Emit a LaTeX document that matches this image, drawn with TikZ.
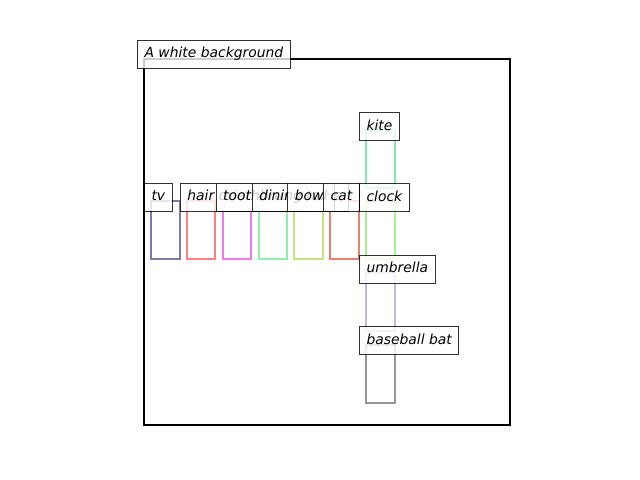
\documentclass[tikz,border=0pt]{standalone}
\usepackage{fontspec}
\setmainfont{DejaVu Sans}
\definecolor{ctv}{RGB}{128,120,168}
\definecolor{chair}{RGB}{255,128,128}
\definecolor{ctooth}{RGB}{240,120,240}
\definecolor{cdining}{RGB}{140,240,170}
\definecolor{cbowl}{RGB}{195,228,128}
\definecolor{ccat}{RGB}{232,128,108}
\definecolor{ckite}{RGB}{128,232,176}
\definecolor{cclock}{RGB}{170,240,140}
\definecolor{cumb}{RGB}{200,180,224}
\definecolor{cbat}{RGB}{150,150,150}
\begin{document}
\begin{tikzpicture}[x=0.72bp,y=-0.72bp,
  lbl/.style={draw=black, draw opacity=0.8, fill=white, fill opacity=0.8, text opacity=1,
    line width=0.72bp, inner sep=5bp, text height=7.6bp, text depth=2.4bp,
    anchor=base west, font=\fontsize{10bp}{12bp}\selectfont\itshape},
  objbox/.style={line width=1.44bp},
  framebox/.style={line width=1.44bp, draw=black}]
\useasboundingbox (0,0) rectangle (640,480);
\draw[framebox] (144,59) rectangle (510,425);
% object boxes
\draw[objbox, ctv]     (151,201)    rectangle ++(28.6,58);
\draw[objbox, chair]   (186.83,201) rectangle ++(28.6,58);
\draw[objbox, ctooth]  (222.67,201) rectangle ++(28.6,58);
\draw[objbox, cdining] (258.5,201)  rectangle ++(28.6,58);
\draw[objbox, cbowl]   (294.33,201) rectangle ++(28.6,58);
\draw[objbox, ccat]    (330.17,201) rectangle ++(28.6,58);
\draw[objbox, ckite]   (366,130)    rectangle ++(28.6,58);
\draw[objbox, cclock]  (366,201.5)  rectangle ++(28.6,58);
\draw[objbox, cumb]    (366,273)    rectangle ++(28.6,58);
\draw[objbox, cbat]    (366,344.5)  rectangle ++(28.6,58);
% labels
\node[lbl] (bg)     at (137.06,58) {A white background};
\node[lbl] (tv)     at (144.06,201) {tv};
\node[lbl] (hair)   at (179.9,201) {hair drier};
\node[lbl] (tooth)  at (215.73,201) {toothbrush};
\node[lbl] (dining) at (251.56,201) {dining table};
\node[lbl] (bowl)   at (287.4,201) {bowl};
\node[lbl] (cat)    at (323.23,201) {cat};
\node[lbl] (clock)  at (359.06,201.5) {clock};
\node[lbl] (kite)   at (359.06,130.5) {kite};
\node[lbl] (umb)    at (359.06,273) {umbrella};
\node[lbl] (bat)    at (359.06,344.5) {baseball bat};
\end{tikzpicture}
\end{document}
